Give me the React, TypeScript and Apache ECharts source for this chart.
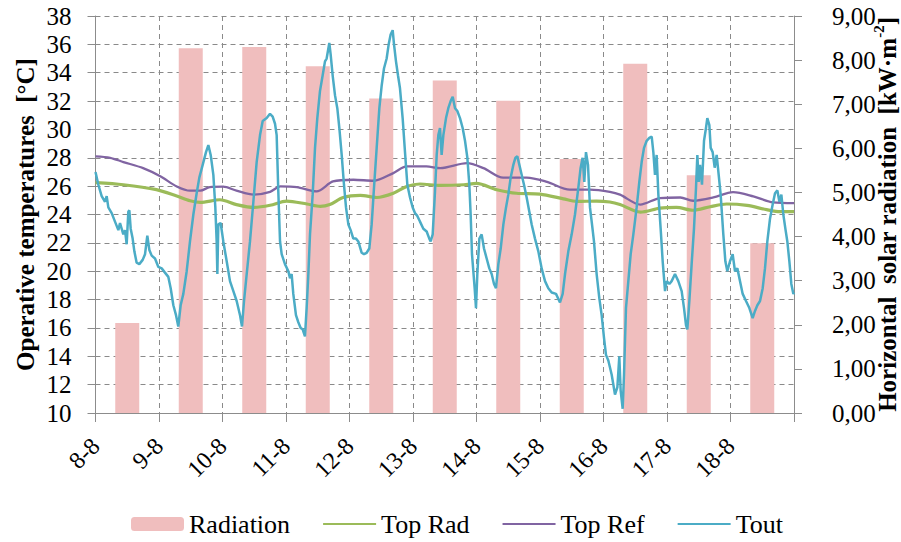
import React, { useEffect, useRef } from "react";
import * as echarts from "echarts";

const dayLabels = ["8-8", "9-8", "10-8", "11-8", "12-8", "13-8", "14-8", "15-8", "16-8", "17-8", "18-8"];
const radiation = [2.04, 8.27, 8.3, 7.86, 7.13, 7.54, 7.08, 5.76, 7.92, 5.39, 3.85];

const topRad: [number, number][] = [
  [0, 26.25], [0.44, 26.1], [0.96, 25.75], [1.28, 25.3], [1.49, 24.97], [1.65, 24.85], [1.96, 25.04],
  [2.22, 24.7], [2.49, 24.5], [2.75, 24.65], [3.01, 24.95], [3.33, 24.74], [3.54, 24.57], [3.69, 24.7],
  [3.9, 25.2], [4.17, 25.35], [4.43, 25.2], [4.69, 25.5], [4.9, 25.98], [5.11, 26.15], [5.43, 26.05],
  [5.8, 26.1], [6.0, 26.2], [6.32, 25.75], [6.63, 25.5], [7.0, 25.44], [7.37, 25.1], [7.58, 24.92],
  [7.89, 24.95], [8.1, 24.88], [8.26, 24.7], [8.58, 24.17], [8.89, 24.45], [9.15, 24.5], [9.41, 24.3],
  [9.68, 24.55], [9.94, 24.74], [10.26, 24.64], [10.57, 24.34], [10.78, 24.2], [11, 24.2],
];

const topRef: [number, number][] = [
  [0, 28.1], [0.23, 28.0], [0.44, 27.7], [0.75, 27.27], [1.02, 26.7], [1.28, 25.98], [1.49, 25.68],
  [1.65, 25.68], [1.8, 25.93], [2.01, 25.96], [2.22, 25.68], [2.49, 25.4], [2.75, 25.6], [2.91, 25.98],
  [3.17, 25.93], [3.48, 25.63], [3.74, 26.33], [4.06, 26.45], [4.38, 26.38], [4.69, 26.92], [4.9, 27.39],
  [5.21, 27.39], [5.43, 27.27], [5.85, 27.62], [6.11, 27.27], [6.42, 26.6], [6.79, 26.6], [7.11, 26.3],
  [7.47, 25.75], [7.79, 25.75], [8.1, 25.6], [8.26, 25.4], [8.58, 24.7], [8.89, 25.16], [9.21, 25.2],
  [9.41, 24.97], [9.73, 25.2], [10.04, 25.58], [10.36, 25.28], [10.67, 24.85], [11, 24.8],
];

const tout: [number, number][] = [
  [0, 27.0], [0.045, 26.1], [0.097, 25.3], [0.15, 24.9], [0.176, 25.3], [0.202, 24.5], [0.255, 24.1],
  [0.307, 23.5], [0.36, 22.9], [0.386, 23.4], [0.438, 22.6], [0.465, 22.9], [0.491, 21.9], [0.517, 24.2],
  [0.533, 24.3], [0.554, 23.0], [0.585, 22.3], [0.612, 21.4], [0.648, 20.6], [0.69, 20.5], [0.743, 20.8],
  [0.78, 21.2], [0.816, 22.5], [0.848, 21.5], [0.885, 21.1], [0.937, 20.9], [0.99, 20.3], [1.042, 20.2],
  [1.094, 19.9], [1.147, 19.6], [1.184, 18.8], [1.226, 17.6], [1.268, 16.9], [1.304, 16.1], [1.341, 17.6],
  [1.383, 18.4], [1.436, 20.0], [1.488, 22.1], [1.541, 24.0], [1.593, 25.5], [1.635, 26.6], [1.688, 27.5],
  [1.74, 28.4], [1.777, 28.9], [1.814, 28.2], [1.856, 26.8], [1.887, 24.5], [1.908, 22.1], [1.919, 19.8],
  [1.934, 23.3], [1.971, 23.4], [2.013, 22.1], [2.066, 20.7], [2.118, 19.3], [2.171, 18.6], [2.223, 17.9],
  [2.276, 16.9], [2.307, 16.1], [2.339, 17.9], [2.381, 19.8], [2.433, 22.1], [2.486, 24.9], [2.538, 27.7],
  [2.591, 29.6], [2.633, 30.6], [2.696, 30.8], [2.748, 31.1], [2.79, 30.9], [2.827, 30.4], [2.853, 29.6],
  [2.879, 25.6], [2.906, 22.1], [2.932, 21.2], [2.984, 20.5], [3.037, 20.0], [3.063, 19.5], [3.089, 19.8],
  [3.115, 18.4], [3.157, 16.9], [3.194, 16.4], [3.231, 16.0], [3.262, 15.9], [3.299, 15.4], [3.325, 17.4],
  [3.352, 19.8], [3.378, 22.6], [3.42, 25.4], [3.457, 28.7], [3.493, 30.8], [3.535, 32.7], [3.577, 33.8],
  [3.614, 34.8], [3.64, 35.0], [3.682, 36.1], [3.703, 35.3], [3.735, 33.8], [3.772, 32.4], [3.808, 31.5],
  [3.84, 30.1], [3.877, 28.2], [3.913, 26.1], [3.945, 24.5], [3.982, 23.3], [4.018, 22.9], [4.06, 22.3],
  [4.102, 22.3], [4.139, 22.1], [4.192, 21.3], [4.228, 21.2], [4.27, 21.3], [4.312, 21.6], [4.349, 23.3],
  [4.386, 25.9], [4.428, 28.7], [4.47, 31.5], [4.507, 33.1], [4.543, 34.3], [4.585, 35.0], [4.617, 36.0],
  [4.648, 36.7], [4.68, 37.0], [4.701, 36.0], [4.732, 34.8], [4.764, 33.8], [4.795, 32.9], [4.837, 30.8],
  [4.874, 28.4], [4.911, 26.1], [4.953, 25.2], [4.995, 24.5], [5.031, 24.1], [5.068, 23.9], [5.11, 23.5],
  [5.163, 23.0], [5.215, 22.8], [5.257, 22.3], [5.278, 22.1], [5.31, 22.6], [5.346, 25.6], [5.373, 28.2],
  [5.399, 29.6], [5.425, 30.1], [5.451, 28.2], [5.478, 29.6], [5.52, 30.8], [5.556, 31.5], [5.593, 32.0],
  [5.625, 32.3], [5.662, 31.5], [5.698, 31.3], [5.74, 30.8], [5.782, 30.1], [5.819, 29.2], [5.856, 28.0],
  [5.887, 26.1], [5.908, 24.0], [5.929, 21.2], [5.95, 20.0], [5.971, 18.8], [5.992, 17.4], [6.013, 19.8],
  [6.045, 22.3], [6.081, 22.6], [6.118, 21.6], [6.16, 20.9], [6.202, 20.2], [6.239, 19.8], [6.276, 19.1],
  [6.307, 18.8], [6.344, 20.5], [6.381, 21.6], [6.423, 23.3], [6.465, 24.5], [6.501, 25.4], [6.538, 26.6],
  [6.58, 27.5], [6.612, 28.0], [6.643, 28.1], [6.675, 27.5], [6.711, 26.8], [6.748, 26.1], [6.79, 25.2],
  [6.832, 24.2], [6.869, 23.3], [6.921, 22.3], [6.974, 21.4], [7.026, 20.2], [7.079, 19.3], [7.131, 18.8],
  [7.184, 18.5], [7.252, 18.4], [7.315, 17.8], [7.357, 18.4], [7.394, 19.8], [7.446, 21.4], [7.499, 22.6],
  [7.551, 24.0], [7.604, 25.9], [7.64, 27.3], [7.672, 28.0], [7.698, 26.3], [7.724, 28.4], [7.756, 27.5],
  [7.787, 24.5], [7.819, 23.3], [7.85, 22.1], [7.892, 19.8], [7.934, 18.1], [7.971, 16.9], [8.008, 15.3],
  [8.039, 14.1], [8.076, 13.7], [8.129, 12.7], [8.181, 11.3], [8.218, 11.8], [8.249, 14.0], [8.27, 11.6],
  [8.302, 10.3], [8.323, 12.7], [8.354, 17.4], [8.391, 19.3], [8.428, 21.2], [8.47, 22.6], [8.522, 24.5],
  [8.564, 26.3], [8.601, 27.7], [8.638, 28.7], [8.68, 29.2], [8.722, 29.4], [8.759, 29.5], [8.785, 28.4],
  [8.811, 26.8], [8.837, 28.2], [8.864, 25.4], [8.9, 23.0], [8.932, 20.7], [8.969, 18.6], [8.995, 19.3],
  [9.037, 19.1], [9.073, 19.3], [9.126, 19.8], [9.178, 19.3], [9.231, 18.6], [9.268, 17.4], [9.299, 16.2],
  [9.32, 15.9], [9.352, 17.9], [9.388, 20.5], [9.425, 23.0], [9.457, 25.9], [9.478, 28.2], [9.499, 26.3],
  [9.52, 27.5], [9.551, 26.1], [9.583, 29.2], [9.614, 30.1], [9.635, 30.8], [9.667, 30.3], [9.688, 28.7],
  [9.719, 28.4], [9.751, 27.3], [9.782, 28.2], [9.814, 26.8], [9.845, 25.4], [9.887, 22.6], [9.919, 20.7],
  [9.95, 20.0], [9.992, 20.7], [10.034, 21.2], [10.071, 20.0], [10.108, 20.2], [10.15, 19.3], [10.192, 18.4],
  [10.244, 17.9], [10.297, 17.4], [10.349, 16.7], [10.386, 17.2], [10.423, 17.6], [10.465, 17.9], [10.507, 18.8],
  [10.543, 20.2], [10.58, 22.1], [10.622, 23.7], [10.664, 24.7], [10.701, 25.5], [10.738, 25.7], [10.77, 24.9],
  [10.801, 25.4], [10.832, 24.0], [10.864, 23.0], [10.895, 22.1], [10.927, 20.7], [10.958, 19.1], [10.99, 18.4],
  [11, 18.5],
];

const FONT = "Liberation Serif";

export default function App() {
  const ref = useRef<HTMLDivElement>(null);
  useEffect(() => {
    if (!ref.current) return;
    const chart = echarts.init(ref.current, null, { renderer: "svg" });
    const axisGray = "#8c8c8c";
    const gridStyle = { color: "#8a8a8a", type: [5, 4] as any, width: 1 };
    const noDot = { opacity: 0 };
    chart.setOption({
      animation: false,
      backgroundColor: "#fff",
      textStyle: { fontFamily: FONT, color: "#000" },
      grid: { left: 95.5, right: 107, top: 16, bottom: 129, containLabel: false, outerBoundsMode: "none" },
      legend: {
        left: 126,
        bottom: 0,
        itemWidth: 53,
        itemHeight: 14,
        itemGap: 32,
        textStyle: { fontFamily: FONT, fontSize: 26, color: "#000" },
        data: [
          { name: "Radiation" },
          { name: "Top Rad", itemStyle: noDot },
          { name: "Top Ref", itemStyle: noDot },
          { name: "Tout", itemStyle: noDot },
        ],
      },
      xAxis: [
        {
          type: "value",
          min: 0,
          max: 11,
          interval: 1,
          axisLine: { show: true, lineStyle: { color: axisGray, width: 1 } },
          axisTick: { show: true, length: 9, lineStyle: { color: axisGray } },
          splitLine: { show: true, lineStyle: gridStyle },
          axisLabel: {
            rotate: 45,
            margin: 29,
            fontFamily: FONT,
            fontSize: 24,
            color: "#000",
            formatter: (v: number) => (v <= 10 ? dayLabels[Math.round(v)] : ""),
          },
        },
        {
          type: "category",
          data: dayLabels,
          show: false,
          boundaryGap: true,
        },
      ],
      yAxis: [
        {
          type: "value",
          min: 10,
          max: 38,
          interval: 2,
          name: "Operative temperatures  [°C]",
          nameLocation: "middle",
          nameRotate: 90,
          nameGap: 58,
          nameMoveOverlap: false,
          nameTextStyle: { fontFamily: FONT, fontSize: 25, fontWeight: "bold", color: "#000" },
          axisLine: { show: true, lineStyle: { color: axisGray } },
          axisTick: { show: true, length: 8, lineStyle: { color: axisGray } },
          splitLine: { show: true, lineStyle: gridStyle },
          axisLabel: { fontFamily: FONT, fontSize: 25, color: "#000", margin: 24 },
        },
        {
          type: "value",
          min: 0,
          max: 9,
          interval: 1,
          position: "right",
          name: "Horizontal  solar radiation  [kW·m{sup|-2}]",
          nameLocation: "middle",
          nameRotate: 90,
          nameGap: 77,
          nameMoveOverlap: false,
          nameTextStyle: {
            fontFamily: FONT,
            fontSize: 25,
            fontWeight: "bold",
            color: "#000",
            rich: {
              sup: { fontFamily: FONT, fontSize: 15, fontWeight: "bold", color: "#000", padding: [0, 0, 18, 0] },
            },
          },
          axisLine: { show: true, lineStyle: { color: axisGray } },
          axisTick: { show: true, length: 8, lineStyle: { color: axisGray } },
          splitLine: { show: false },
          axisLabel: {
            fontFamily: FONT,
            fontSize: 25,
            color: "#000",
            margin: 38,
            formatter: (v: number) => v.toFixed(2).replace(".", ","),
          },
        },
      ],
      series: [
        {
          name: "Radiation",
          type: "bar",
          xAxisIndex: 1,
          yAxisIndex: 1,
          data: radiation,
          barWidth: 24,
          itemStyle: { color: "#F0BEBE" },
          z: 1,
        },
        {
          name: "Top Rad",
          type: "line",
          xAxisIndex: 0,
          yAxisIndex: 0,
          data: topRad,
          smooth: 0.3,
          symbol: "none",
          lineStyle: { color: "#9BBB59", width: 3.2 },
          itemStyle: { color: "#9BBB59" },
          z: 3,
        },
        {
          name: "Top Ref",
          type: "line",
          xAxisIndex: 0,
          yAxisIndex: 0,
          data: topRef,
          smooth: 0.3,
          symbol: "none",
          lineStyle: { color: "#8064A2", width: 2.3 },
          itemStyle: { color: "#8064A2" },
          z: 3,
        },
        {
          name: "Tout",
          type: "line",
          xAxisIndex: 0,
          yAxisIndex: 0,
          data: tout,
          symbol: "none",
          lineStyle: { color: "#4BACC6", width: 2.5 },
          itemStyle: { color: "#4BACC6" },
          z: 4,
        },
      ],
    });
    return () => chart.dispose();
  }, []);
  return (
    <div
      ref={ref}
      style={{ position: "fixed", left: 0, top: 0, width: 901, height: 542, background: "#fff" }}
    />
  );
}
